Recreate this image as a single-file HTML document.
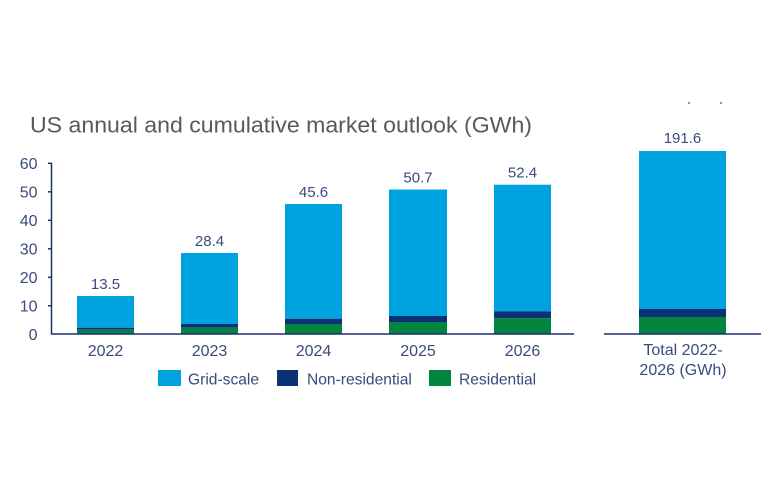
<!DOCTYPE html>
<html><head><meta charset="utf-8"><style>
html,body{margin:0;padding:0;background:#fff;}
svg{display:block;}
text{font-family:"Liberation Sans",Arial,sans-serif;}
</style></head><body>
<svg width="770" height="500" viewBox="0 0 770 500" xmlns="http://www.w3.org/2000/svg">
<rect width="770" height="500" fill="#fff"/>
<text x="30" y="132.5" font-size="22.5" fill="#595959" textLength="502" lengthAdjust="spacingAndGlyphs">US annual and cumulative market outlook (GWh)</text>
<rect x="688" y="102" width="2" height="2" fill="#8a93b8"/>
<rect x="720" y="102" width="2" height="2" fill="#8a93b8"/>
<g font-size="16" fill="#3b4a7d" text-anchor="end">
<text x="37.5" y="169">60</text>
<text x="37.5" y="197.5">50</text>
<text x="37.5" y="226">40</text>
<text x="37.5" y="254.5">30</text>
<text x="37.5" y="283">20</text>
<text x="37.5" y="311.5">10</text>
<text x="37.5" y="340">0</text>
</g>
<g stroke="#1f2f6e" stroke-width="1.5">
<line x1="51.5" y1="163" x2="51.5" y2="334"/>
<line x1="48" y1="163.3" x2="52" y2="163.3"/>
<line x1="48" y1="191.8" x2="52" y2="191.8"/>
<line x1="48" y1="220.3" x2="52" y2="220.3"/>
<line x1="48" y1="248.8" x2="52" y2="248.8"/>
<line x1="48" y1="277.3" x2="52" y2="277.3"/>
<line x1="48" y1="305.8" x2="52" y2="305.8"/>
</g>
<g>
<rect x="77" y="296" width="57" height="31.7" fill="#00a3e0"/>
<rect x="77" y="327.7" width="57" height="2" fill="#0b3275"/>
<rect x="77" y="329.7" width="57" height="4.3" fill="#00843f"/>

<rect x="181" y="253" width="57" height="71" fill="#00a3e0"/>
<rect x="181" y="324" width="57" height="3.7" fill="#0b3275"/>
<rect x="181" y="327.7" width="57" height="6.3" fill="#00843f"/>

<rect x="285" y="204" width="57" height="114.7" fill="#00a3e0"/>
<rect x="285" y="318.7" width="57" height="5.3" fill="#0b3275"/>
<rect x="285" y="324" width="57" height="10" fill="#00843f"/>

<rect x="389" y="189.5" width="58" height="126.5" fill="#00a3e0"/>
<rect x="389" y="316" width="58" height="6" fill="#0b3275"/>
<rect x="389" y="322" width="58" height="12" fill="#00843f"/>

<rect x="494" y="184.7" width="57" height="126.6" fill="#00a3e0"/>
<rect x="494" y="311.3" width="57" height="7" fill="#0b3275"/>
<rect x="494" y="318.3" width="57" height="15.7" fill="#00843f"/>

<rect x="639" y="151" width="87" height="158" fill="#00a3e0"/>
<rect x="639" y="309" width="87" height="8" fill="#0b3275"/>
<rect x="639" y="317" width="87" height="17" fill="#00843f"/>
</g>
<g stroke="#1f2f6e" stroke-width="1.5">
<line x1="51" y1="334" x2="574" y2="334"/>
<line x1="604" y1="334" x2="761" y2="334"/>
</g>
<g font-size="15" fill="#3b4a7d" text-anchor="middle">
<text x="105.5" y="289">13.5</text>
<text x="209.5" y="246">28.4</text>
<text x="313.5" y="197">45.6</text>
<text x="418" y="182.5">50.7</text>
<text x="522.5" y="177.5">52.4</text>
<text x="682.5" y="143">191.6</text>
</g>
<g font-size="16" fill="#3b4a7d" text-anchor="middle">
<text x="105.5" y="356">2022</text>
<text x="209.5" y="356">2023</text>
<text x="313.5" y="356">2024</text>
<text x="418" y="356">2025</text>
<text x="522.5" y="356">2026</text>
<text x="683" y="355">Total 2022-</text>
<text x="683" y="375">2026 (GWh)</text>
</g>
<rect x="158" y="370" width="23" height="16" fill="#00a3e0"/>
<rect x="277" y="370" width="21" height="16" fill="#0b3275"/>
<rect x="429" y="370" width="22" height="16" fill="#00843f"/>
<g font-size="15.6" fill="#3b4a7d">
<text x="188" y="384.5">Grid-scale</text>
<text x="307" y="384.5">Non-residential</text>
<text x="459" y="384.5">Residential</text>
</g>
</svg>
</body></html>
